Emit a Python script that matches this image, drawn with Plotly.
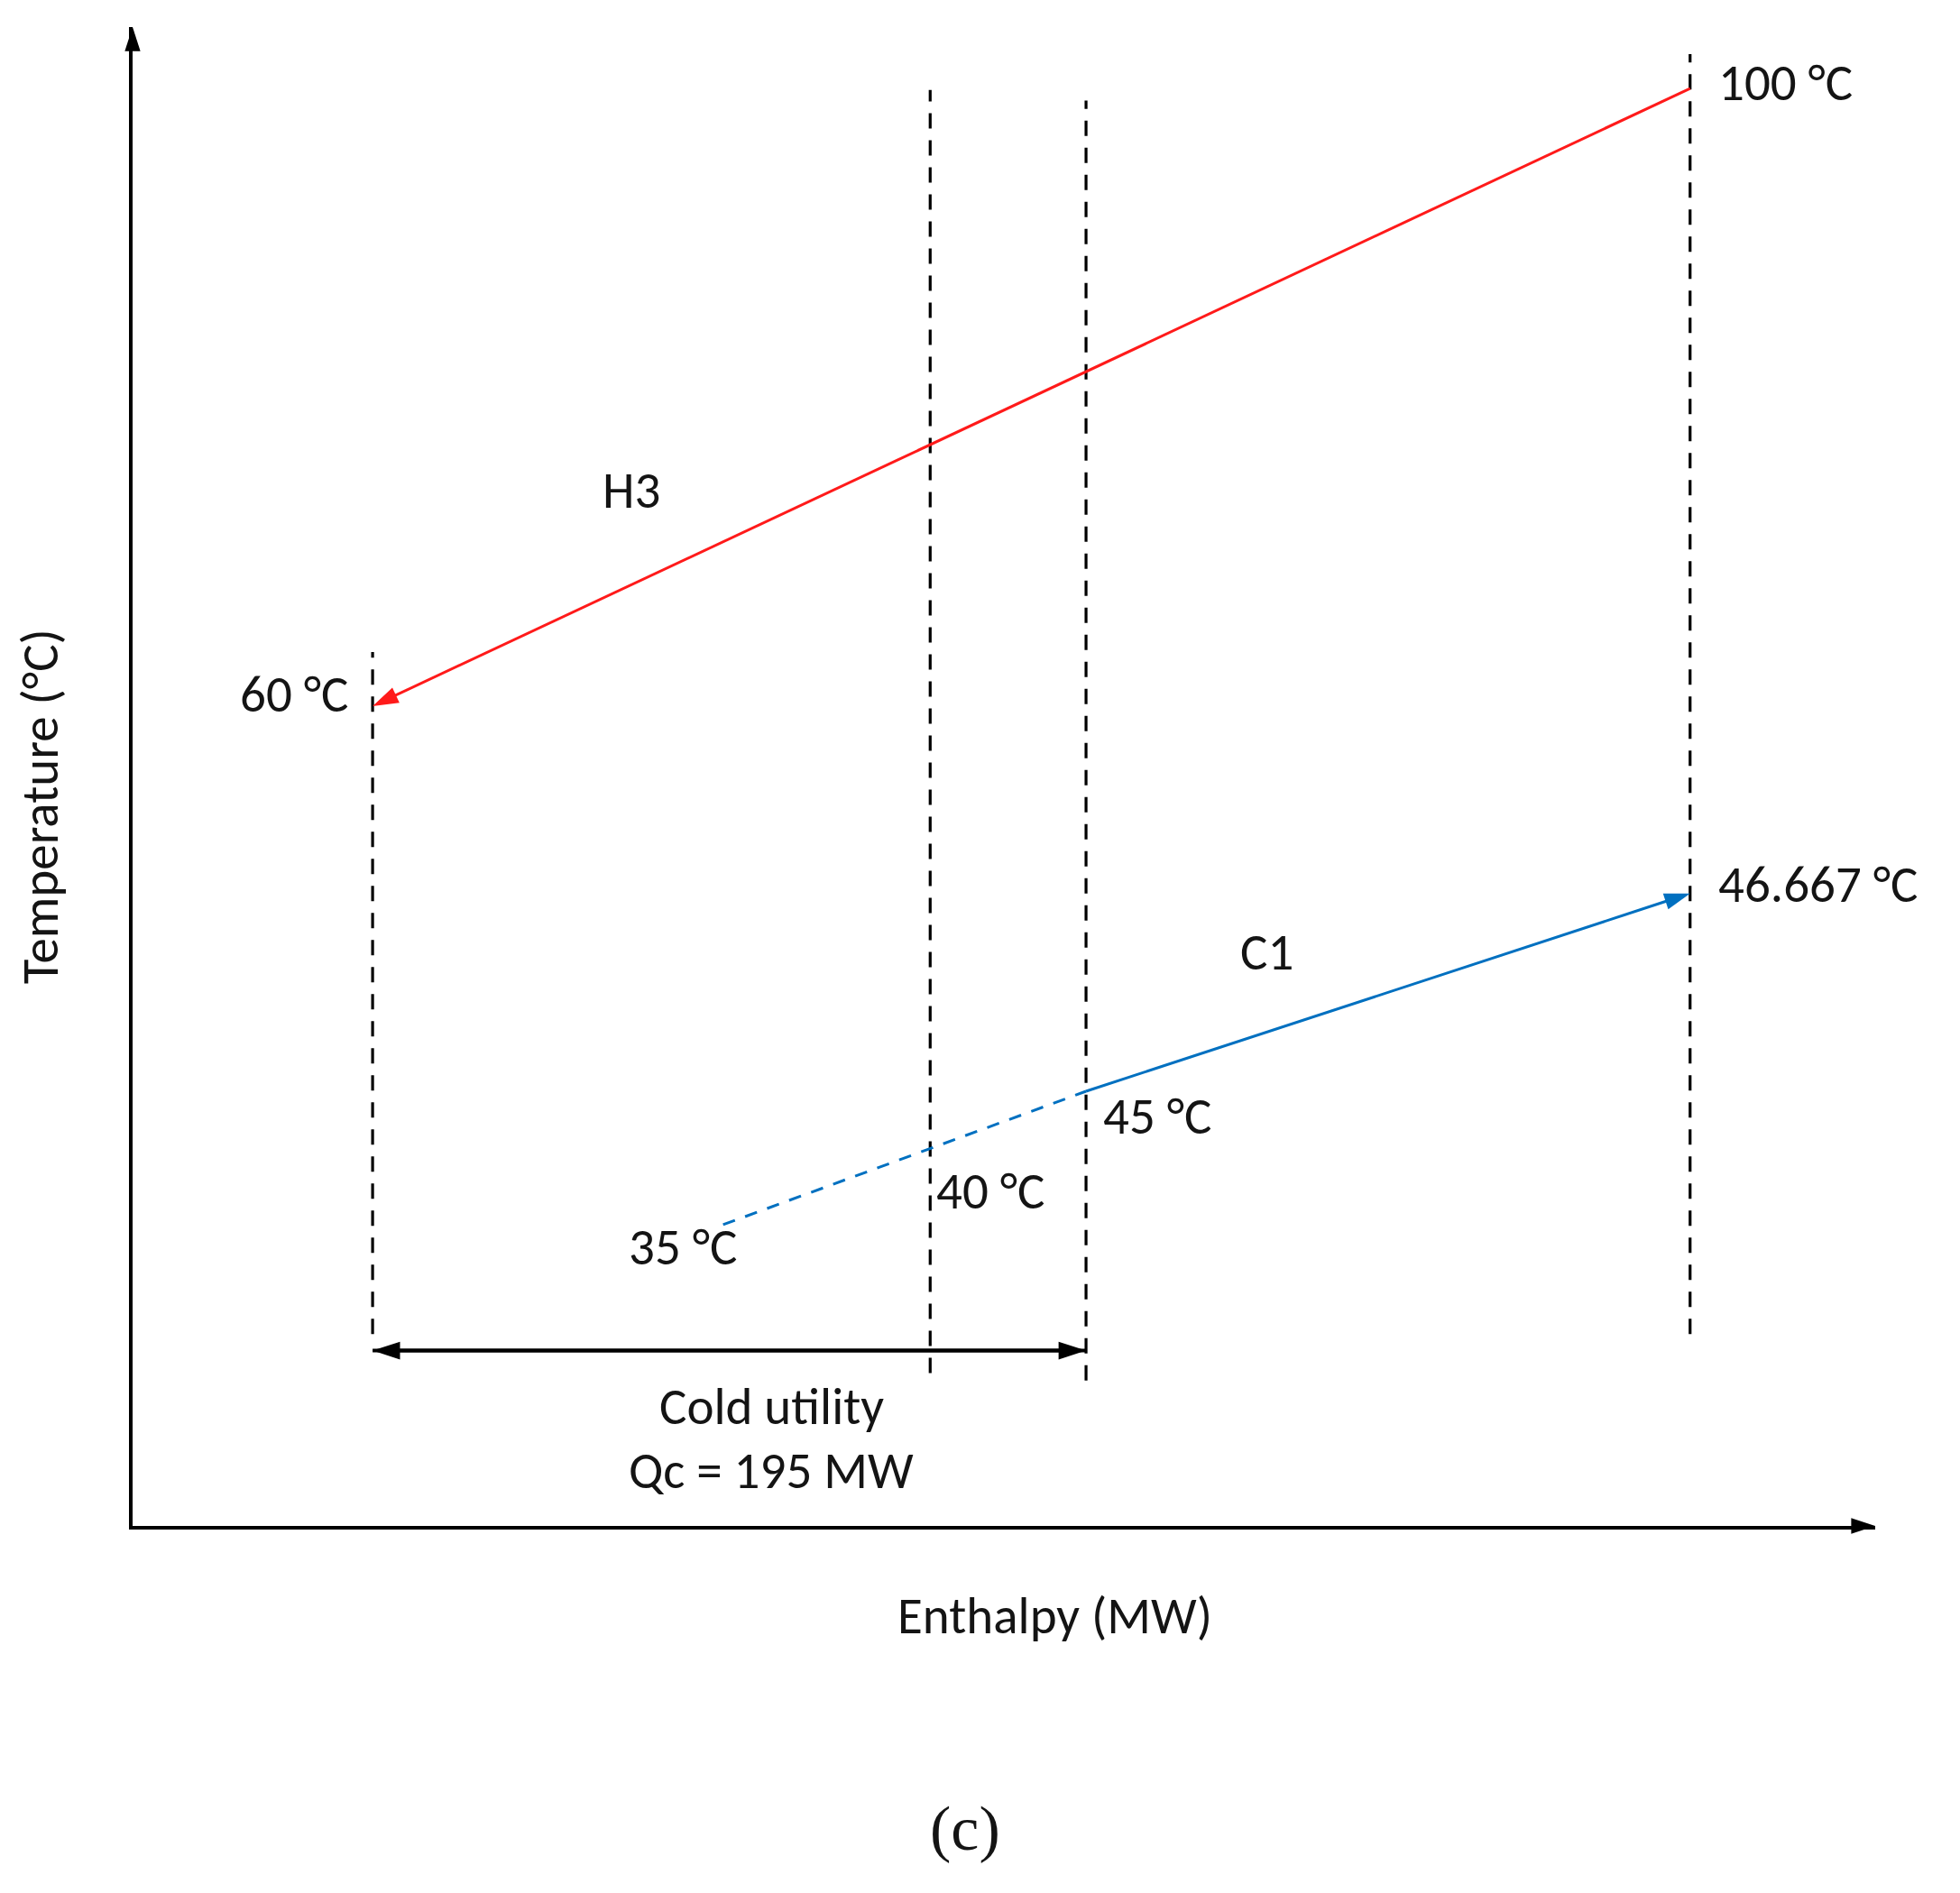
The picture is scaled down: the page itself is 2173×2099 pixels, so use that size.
"""
Schematic temperature-enthalpy diagram of streams H3 and C1 with the cold utility.
"""
import numpy as np
import plotly.graph_objects as go

# enthalpy boundaries of the intervals (MW, schematic) and how far the dashed lines reach
boundary_h = [65.6, 218.0, 260.6, 425.7]
boundary_bottom = [12.8, 10.2, 9.7, 12.8]
boundary_top = [58.3, 95.8, 95.1, 98.2]

# hot stream H3 : 100 °C -> 60 °C (level = schematic height on the diagram)
h3_h = [425.7, 65.6]
h3_level = [95.9, 54.7]
h3_temps = ['100 °C', '60 °C']

# cold stream C1 : 35 °C -> 45 °C (cooled by utility, dashed) -> 46.667 °C
c1_h = [161.4, 260.6, 425.7]
c1_level = [20.1, 29.0, 42.2]
c1_temps = ['35 °C', '45 °C', '46.667 °C']
interval_temp = '40 °C'

# cold utility
qc_start, qc_end = 65.6, 260.6
qc_level = 11.7
qc_text = 'Qc = ' + str(round(qc_end - qc_start)) + ' MW'

X_MAX = 476.3
Y_MAX = 100

FONT = 'Carlito, Noto Sans, sans-serif'
FSIZE = 57
TXT = '#141414'
RED = '#ff1a1a'
BLUE = '#0070c0'

fig = go.Figure()

# dashed interval boundaries
bx, by = [], []
for h, lo, hi in zip(boundary_h, boundary_bottom, boundary_top):
    bx += [h, h, None]
    by += [lo, hi, None]
fig.add_trace(go.Scatter(x=bx, y=by, mode='lines',
                         line=dict(color='black', width=3.2, dash='17px,13px')))

# H3
fig.add_trace(go.Scatter(x=h3_h, y=h3_level, mode='lines+markers',
                         line=dict(color=RED, width=3),
                         marker=dict(symbol='arrow', angleref='previous', size=30, color=RED)))

# C1, part heated by the cold utility region (dashed) and the rest (solid, arrow)
fig.add_trace(go.Scatter(x=c1_h[:2], y=c1_level[:2], mode='lines',
                         line=dict(color=BLUE, width=3, dash='14px,12px')))
fig.add_trace(go.Scatter(x=c1_h[1:], y=c1_level[1:], mode='lines+markers',
                         line=dict(color=BLUE, width=3),
                         marker=dict(symbol='arrow', angleref='previous', size=30, color=BLUE)))

# cold utility double arrow
fig.add_trace(go.Scatter(x=[qc_end, qc_start, None, qc_start, qc_end],
                         y=[qc_level, qc_level, None, qc_level, qc_level],
                         mode='lines+markers',
                         line=dict(color='black', width=4),
                         marker=dict(symbol='arrow', angleref='previous', size=32, color='black')))

# arrow heads of the axes
fig.add_trace(go.Scatter(x=[0, X_MAX], y=[0, 0], mode='markers', cliponaxis=False,
                         marker=dict(symbol='arrow', angleref='previous', size=28, color='black')))
fig.add_trace(go.Scatter(x=[0, 0], y=[0, Y_MAX], mode='markers', cliponaxis=False,
                         marker=dict(symbol='arrow', angleref='previous', size=28, color='black')))


def label(text, x, y, dx=0, dy=0, anchor='left', size=FSIZE, ref='x'):
    """Add a plain text annotation."""
    fig.add_annotation(text=text, x=x, y=y, xref=ref, yref=ref.replace('x', 'y'),
                       xshift=dx, yshift=dy, xanchor=anchor, yanchor='middle',
                       showarrow=False, font=dict(family=FONT, size=size, color=TXT))


label(h3_temps[0], h3_h[0], h3_level[0], dx=29, dy=7)
label(h3_temps[1], h3_h[1], h3_level[1], dx=-25, dy=13, anchor='right')
label(c1_temps[0], c1_h[0], c1_level[0], dx=-45, dy=-25, anchor='center')
label(c1_temps[1], c1_h[1], c1_level[1], dx=17, dy=-27)
label(c1_temps[2], c1_h[2], c1_level[2], dx=29, dy=10)
label(interval_temp, boundary_h[1], float(np.interp(boundary_h[1], c1_h, c1_level)),
      dx=5, dy=-47)
label('H3', 136.3, 69.1, anchor='center')
label('C1', 309.9, 38.3, anchor='center')
label('Cold utility', 174.6, 8.0, anchor='center')
label(qc_text, 174.6, 3.7, anchor='center')
label('Enthalpy (MW)', 0.5295, -0.060, anchor='center', ref='paper')
fig.add_annotation(text='Temperature (°C)', x=-0.0533, y=0.480, xref='paper', yref='paper',
                   textangle=-90, showarrow=False, xanchor='center', yanchor='middle',
                   font=dict(family=FONT, size=FSIZE, color=TXT))
fig.add_annotation(text='(c)', x=0.478, y=-0.2016, xref='paper', yref='paper',
                   showarrow=False, xanchor='center', yanchor='middle',
                   font=dict(family='Liberation Serif, serif', size=70, color=TXT))

fig.update_xaxes(range=[0, X_MAX], showgrid=False, zeroline=False, showticklabels=False,
                 ticks='', showline=True, linecolor='black', linewidth=3.5)
fig.update_yaxes(range=[0, Y_MAX], showgrid=False, zeroline=False, showticklabels=False,
                 ticks='', showline=True, linecolor='black', linewidth=3.5)
# the page keeps an 8px body margin, so the figure is a little smaller than the window
fig.update_layout(width=2165, height=2091, showlegend=False,
                  margin=dict(l=139, r=94, t=22, b=407),
                  plot_bgcolor='white', paper_bgcolor='white')

fig.write_html('out.html')
